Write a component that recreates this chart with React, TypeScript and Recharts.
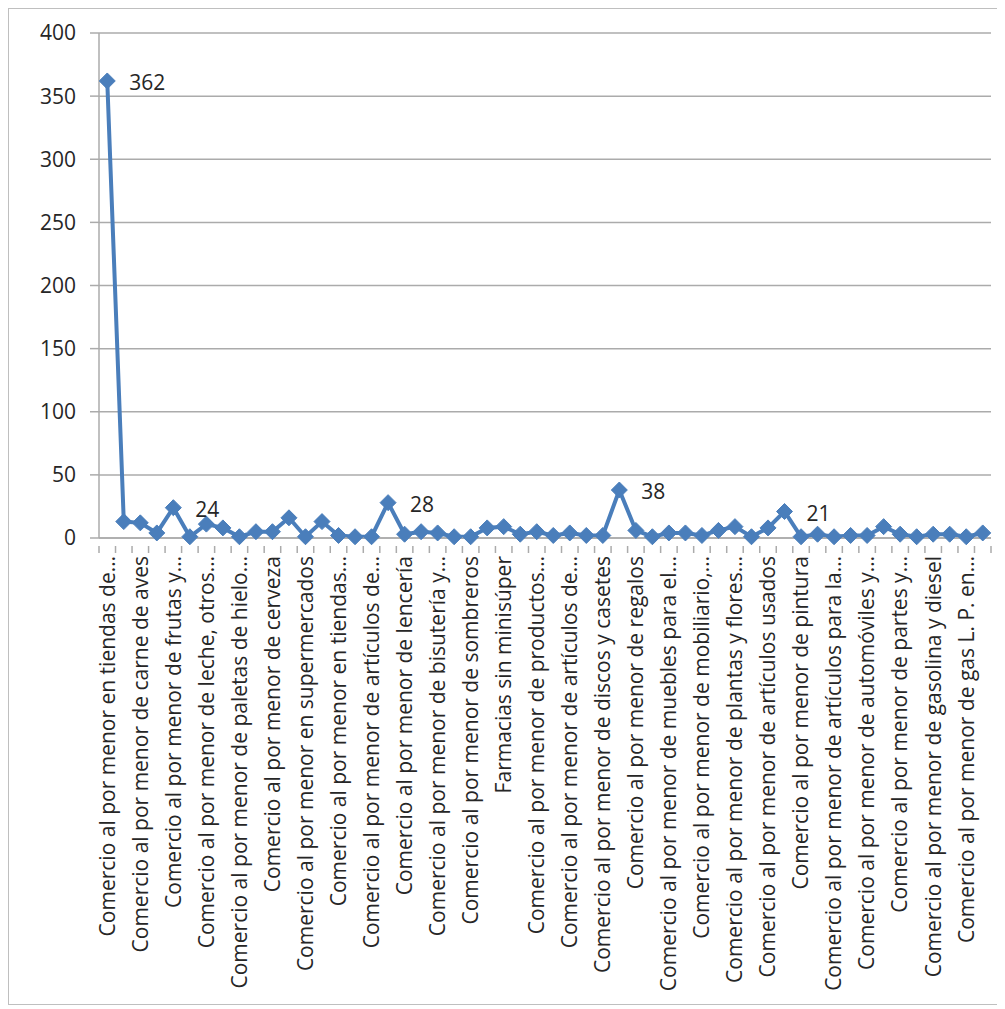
import React from "react";
import { LineChart, Line, XAxis, YAxis, CartesianGrid } from "recharts";

// Retail subsectors (every second name is printed on the axis)
const categories: string[] = [
  "Comercio al por menor en tiendas de…",
  "Comercio al por menor de carnes rojas",
  "Comercio al por menor de carne de aves",
  "Comercio al por menor de pescados y mariscos",
  "Comercio al por menor de frutas y…",
  "Comercio al por menor de semillas y granos…",
  "Comercio al por menor de leche, otros…",
  "Comercio al por menor de dulces y materias…",
  "Comercio al por menor de paletas de hielo…",
  "Comercio al por menor de otros alimentos",
  "Comercio al por menor de cerveza",
  "Comercio al por menor de vinos y licores",
  "Comercio al por menor en supermercados",
  "Comercio al por menor en minisupers",
  "Comercio al por menor en tiendas…",
  "Comercio al por menor de ropa, excepto…",
  "Comercio al por menor de artículos de…",
  "Comercio al por menor de ropa de bebé",
  "Comercio al por menor de lencería",
  "Comercio al por menor de disfraces…",
  "Comercio al por menor de bisutería y…",
  "Comercio al por menor de calzado",
  "Comercio al por menor de sombreros",
  "Farmacias con minisúper",
  "Farmacias sin minisúper",
  "Comercio al por menor de lentes",
  "Comercio al por menor de productos…",
  "Comercio al por menor de juguetes",
  "Comercio al por menor de artículos de…",
  "Comercio al por menor de instrumentos…",
  "Comercio al por menor de discos y casetes",
  "Comercio al por menor de artículos de papelería",
  "Comercio al por menor de regalos",
  "Comercio al por menor de mascotas",
  "Comercio al por menor de muebles para el…",
  "Comercio al por menor de enseres domésticos",
  "Comercio al por menor de mobiliario,…",
  "Comercio al por menor de teléfonos…",
  "Comercio al por menor de plantas y flores…",
  "Comercio al por menor de lámparas…",
  "Comercio al por menor de artículos usados",
  "Comercio al por menor en ferreterías y tlapalerías",
  "Comercio al por menor de pintura",
  "Comercio al por menor de vidrios y espejos",
  "Comercio al por menor de artículos para la…",
  "Comercio al por menor de materiales para…",
  "Comercio al por menor de automóviles y…",
  "Comercio al por menor de llantas y cámaras",
  "Comercio al por menor de partes y…",
  "Comercio al por menor de motocicletas",
  "Comercio al por menor de gasolina y diesel",
  "Comercio al por menor de aceites y grasas…",
  "Comercio al por menor de gas L. P. en…",
  "Comercio al por menor de otros combustibles",
];

const values: number[] = [
  362, 13, 12, 4, 24, 1, 11, 8, 1, 5,
  5, 16, 1, 13, 2, 1, 1, 28, 3, 5,
  4, 1, 1, 8, 9, 3, 5, 2, 4, 2,
  2, 38, 6, 1, 4, 4, 2, 6, 9, 1,
  8, 21, 1, 3, 1, 2, 2, 9, 3, 1,
  3, 3, 1, 4,
];

// Points whose value is printed beside the marker
const labelledIndexes: number[] = [0, 4, 17, 31, 41];

const yTicks: number[] = [0, 50, 100, 150, 200, 250, 300, 350, 400];

const data = categories.map((name, i) => ({ name, value: values[i] }));

const FONT = "'Open Sans', sans-serif";
const FONT_SIZE = 21;
const TEXT = "#262626";
const BLUE = "#4a7ebb";
const GRID = "#ababab";

const PLOT_WIDTH = 892;
const BAND = PLOT_WIDTH / categories.length;

const Diamond = (props: any) => {
  const { cx, cy } = props;
  if (cx == null || cy == null) return null;
  const r = 8;
  return (
    <polygon
      points={`${cx},${cy - r} ${cx + r},${cy} ${cx},${cy + r} ${cx - r},${cy}`}
      fill={BLUE}
      stroke={BLUE}
      strokeWidth={1}
    />
  );
};

const CategoryTick = (props: any) => {
  const { x, y, payload, index } = props;
  const left = x - BAND / 2;
  const isLast = index === categories.length - 1;
  return (
    <g>
      <line x1={left} y1={y} x2={left} y2={y + 7} stroke={GRID} strokeWidth={1.5} />
      {isLast && (
        <line x1={x + BAND / 2} y1={y} x2={x + BAND / 2} y2={y + 7} stroke={GRID} strokeWidth={1.5} />
      )}
      {index % 2 === 0 && (
        <text
          x={x}
          y={y + 10}
          transform={`rotate(-90, ${x}, ${y + 10})`}
          textAnchor="end"
          dy="0.35em"
          fontFamily={FONT}
          fontSize={FONT_SIZE}
          fill={TEXT}
        >
          {payload.value}
        </text>
      )}
    </g>
  );
};

const ValueLabel = (props: any) => {
  const { x, y, index, value } = props;
  if (!labelledIndexes.includes(index)) return null;
  return (
    <text
      x={x + 22}
      y={y + 2}
      dy="0.35em"
      textAnchor="start"
      fontFamily={FONT}
      fontSize={FONT_SIZE}
      fill={TEXT}
    >
      {value}
    </text>
  );
};

export default function App() {
  return (
    <div
      style={{
        width: 990,
        height: 995,
        border: "1px solid #bfbfbf",
        background: "#fff",
      }}
    >
      <LineChart
        width={990}
        height={995}
        data={data}
        margin={{ top: 24, right: 8, bottom: 6, left: 0 }}
      >
        <CartesianGrid vertical={false} stroke={GRID} strokeWidth={1.5} />
        <XAxis
          dataKey="name"
          interval={0}
          height={460}
          padding={{ left: BAND / 2, right: BAND / 2 }}
          tickLine={false}
          axisLine={{ stroke: GRID, strokeWidth: 1.5 }}
          tick={<CategoryTick />}
        />
        <YAxis
          domain={[0, 400]}
          ticks={yTicks}
          width={90}
          tickSize={9}
          tickMargin={14}
          tickLine={{ stroke: GRID, strokeWidth: 1.5 }}
          axisLine={{ stroke: GRID, strokeWidth: 1.5 }}
          tick={{ fontFamily: FONT, fontSize: FONT_SIZE, fill: TEXT }}
        />
        <Line
          type="linear"
          dataKey="value"
          stroke={BLUE}
          strokeWidth={4}
          dot={<Diamond />}
          activeDot={false}
          isAnimationActive={false}
          label={<ValueLabel />}
        />
      </LineChart>
    </div>
  );
}
